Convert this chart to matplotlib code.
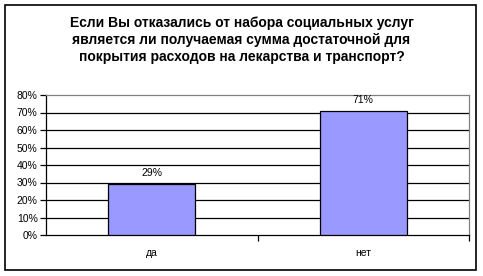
import matplotlib
matplotlib.use("Agg")
import matplotlib.pyplot as plt
from matplotlib.patches import Rectangle

categories = ["да", "нет"]
values = [29, 71]
yticks = [0, 10, 20, 30, 40, 50, 60, 70, 80]
title = "Если Вы отказались от набора социальных услуг\nявляется ли получаемая сумма достаточной для\nпокрытия расходов на лекарства и транспорт?"

plt.rcParams['font.family'] = ['Liberation Sans', 'DejaVu Sans']

W, H = 483, 276
fig = plt.figure(figsize=(W/100, H/100), dpi=100)
fig.patches.append(Rectangle((4.5/W, 6/H), 471.5/W, 265.5/H, transform=fig.transFigure,
                             fill=False, edgecolor='black', linewidth=1.2))

ax = fig.add_axes([46/W, 1-235/H, (469-46)/W, (235-95)/H])
x = list(range(len(categories)))
ax.bar(x, values, width=0.41, color='#9999FF', edgecolor='black', linewidth=0.9, zorder=3)
ax.set_xlim(-0.5, 1.5)
ax.set_ylim(0, 80)
ax.set_yticks(yticks)
ax.set_yticklabels([f"{v}%" for v in yticks], fontsize=7.5)
for v in yticks[1:-1]:
    ax.axhline(v, color='black', linewidth=0.9, zorder=1)
ax.set_xticks([0.5, 1.5], minor=False)
ax.set_xticklabels([])
ax.set_xticks(x, minor=True)
ax.set_xticklabels(categories, minor=True, fontsize=7.5)
ax.tick_params(axis='x', which='minor', length=0, pad=9)
ax.tick_params(axis='x', which='major', length=4, direction='out', width=0.9)
ax.tick_params(axis='y', length=4, direction='out', width=0.9, pad=2)
for s in ['top', 'right']:
    ax.spines[s].set_color('#808080')
    ax.spines[s].set_linewidth(0.9)
for s in ['left', 'bottom']:
    ax.spines[s].set_color('black')
    ax.spines[s].set_linewidth(0.9)
for xi, v in zip(x, values):
    ax.text(xi, v + 3.5, f"{v}%", ha='center', va='bottom', fontsize=7.5, zorder=4)

fig.text(0.5, 1-40/H, title, ha='center', va='center', fontsize=10, fontweight='bold',
         linespacing=1.25)

fig.savefig("out.png", dpi=100, facecolor='white')
